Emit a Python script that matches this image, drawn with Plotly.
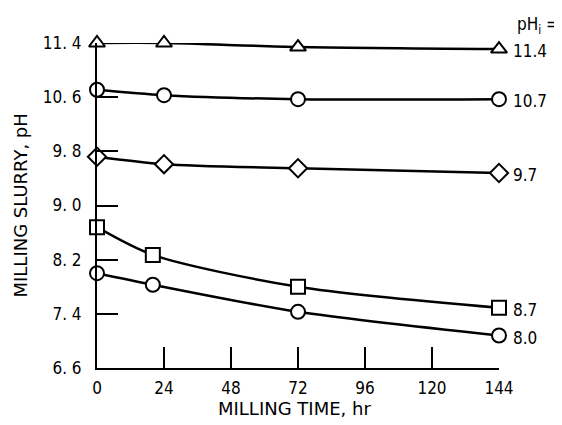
import plotly.graph_objects as go

time_hr = [0, 24, 72, 144]
time_hr_low = [0, 20, 72, 144]

ph_114 = [11.40, 11.40, 11.34, 11.31]
ph_107 = [10.71, 10.63, 10.57, 10.57]
ph_97 = [9.72, 9.61, 9.55, 9.48]
ph_87 = [8.68, 8.27, 7.80, 7.49]
ph_80 = [8.00, 7.83, 7.43, 7.08]

labels = ["11.4", "10.7", "9.7", "8.7", "8.0"]
symbols = ["triangle-up", "circle", "diamond", "square", "circle"]
xs = [time_hr, time_hr, time_hr, time_hr_low, time_hr_low]
ys = [ph_114, ph_107, ph_97, ph_87, ph_80]

x_ticks = [0, 24, 48, 72, 96, 120, 144]
y_ticks = [6.6, 7.4, 8.2, 9.0, 9.8, 10.6, 11.4]
y_ticktext = ["6. 6", "7. 4", "8. 2", "9. 0", "9. 8", "10. 6", "11. 4"]

TFONT = "DejaVu Sans Condensed"
LFONT = "DejaVu Sans"

fig = go.Figure()
for x, y, s, lab in zip(xs, ys, symbols, labels):
    fig.add_trace(go.Scatter(
        x=x, y=y, mode="lines+markers",
        line=dict(color="black", width=2.5, shape="spline", smoothing=0.8),
        marker=dict(symbol=s, size=14, color="white",
                    line=dict(color="black", width=2)),
        cliponaxis=False, showlegend=False, name=lab,
    ))
    fig.add_annotation(x=x[-1], y=y[-1], xref="x", yref="y", text=lab,
                       showarrow=False, xanchor="left", xshift=12, yshift=-2,
                       font=dict(family=TFONT, size=17, color="black"))

fig.add_annotation(x=1.0, y=1.0, xref="paper", yref="paper",
                   text="pH<sub>i</sub> =", showarrow=False,
                   xanchor="left", yanchor="middle", xshift=16, yshift=18,
                   font=dict(family=TFONT, size=17, color="black"))

fig.add_annotation(x=0.4925, y=0, xref="paper", yref="paper",
                   text="MILLING TIME, hr", showarrow=False,
                   xanchor="center", yanchor="middle", yshift=-40,
                   font=dict(family=LFONT, size=18, color="black"))
fig.add_annotation(x=0, y=0.5, xref="paper", yref="paper",
                   text="MILLING SLURRY, pH", showarrow=False, textangle=-90,
                   xanchor="center", yanchor="middle", xshift=-77,
                   font=dict(family=LFONT, size=18, color="black"))

fig.update_xaxes(range=[0, 144], tickvals=x_ticks, ticks="inside", ticklen=21,
                 tickwidth=2, tickcolor="black", showline=True, linecolor="black",
                 linewidth=2, showgrid=False, zeroline=False, automargin=False,
                 ticklabelstandoff=4,
                 tickfont=dict(family=TFONT, size=17, color="black"))
fig.update_yaxes(range=[6.6, 11.4], tickvals=y_ticks, ticktext=y_ticktext,
                 ticks="inside", ticklen=21, tickwidth=2, tickcolor="black",
                 showline=True, linecolor="black", linewidth=2, showgrid=False,
                 zeroline=False, automargin=False, ticklabelstandoff=10,
                 tickfont=dict(family=TFONT, size=17, color="black"))

# page body has an 8px default margin; size the figure to fit the window
fig.update_layout(width=554, height=417, margin=dict(l=89, r=63, t=35, b=57),
                  paper_bgcolor="white", plot_bgcolor="white")

fig.write_html("out.html")
